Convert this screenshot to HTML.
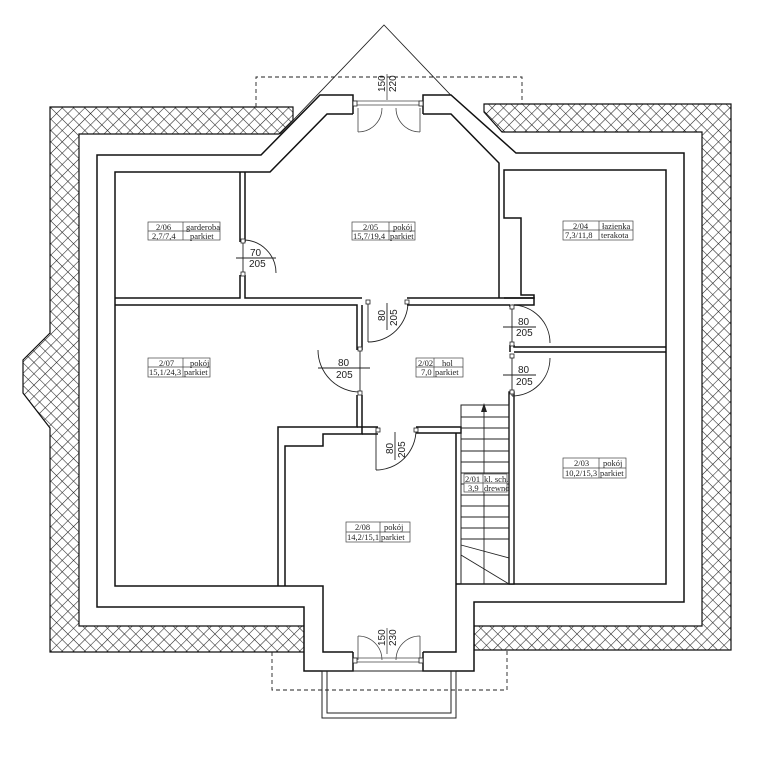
<!DOCTYPE html>
<html><head><meta charset="utf-8"><style>
html,body{margin:0;padding:0;background:#fff}
svg{display:block}
.w{fill:none;stroke:#111;stroke-width:1.5}
.t{fill:none;stroke:#222;stroke-width:0.9}
.lb{font-family:"Liberation Serif",serif;font-size:8.5px;fill:#222}
.dm{font-family:"Liberation Sans",sans-serif;font-size:10px;fill:#222}
</style></head><body>
<svg width="768" height="770" viewBox="0 0 768 770" xmlns="http://www.w3.org/2000/svg">
<defs>
<pattern id="h" width="8" height="8" patternUnits="userSpaceOnUse" patternTransform="rotate(45)">
<rect width="8" height="8" fill="#fff"/>
<line x1="0" y1="0" x2="0" y2="8" stroke="#222" stroke-width="1.1"/>
<line x1="0" y1="0" x2="8" y2="0" stroke="#222" stroke-width="1.1"/>
</pattern>
</defs>
<polygon points="50,107 293,107 293,120 279,134 79,134 79,626 305,626 305,652 50,652 50,428 23,393 23,360 50,333" fill="url(#h)" stroke="#111" stroke-width="1.2"/>
<polygon points="484,104 731,104 731,650 474,650 474,626 702,626 702,132 502,132 484,112" fill="url(#h)" stroke="#111" stroke-width="1.2"/>
<polyline class="t" points="280,134 384,25 484,130"/>
<polyline class="t" stroke-dasharray="4,3" points="256,107 256,77 522,77 522,104"/>
<polyline class="t" stroke-dasharray="4,3" points="272,652 272,690 507,690 507,650"/>
<polygon points="97,155 261,155 320,95 353,95 353,114 327,114 270,172 115,172 115,586 323,586 323,652 353,652 353,671 304,671 304,607 97,607" fill="#fff" stroke="none"/>
<polygon points="423,95 451,95 516,153 684,153 684,602 474,602 474,671 423,671 423,652 456,652 456,584 666,584 666,170 504,170 499,163 451,114 423,114" fill="#fff" stroke="none"/>
<polyline class="w" points="353,114 327,114 270,172 115,172 115,586 323,586 323,652 353,652"/>
<polyline class="w" points="353,114 353,95 320,95 261,155 97,155 97,607 304,607 304,671 353,671 353,652"/>
<polyline class="w" points="423,114 423,95 451,95 516,153 684,153 684,602 474,602 474,671 423,671 423,652"/>
<polyline class="w" points="423,114 451,114 499,163 499,298"/>
<polyline class="w" points="423,652 456,652 456,433"/>
<polyline class="w" points="504,298 534,298 534,295 521,295 521,218 504,218 504,170 666,170 666,584 456,584"/>
<polyline class="w" points="115,298 240,298 240,275"/>
<polyline class="w" points="240,242 240,172"/>
<polyline class="w" points="245,172 245,242"/>
<polyline class="w" points="245,275 245,298 362,298"/>
<polyline class="w" points="115,305 357,305 357,350"/>
<polyline class="w" points="362,305 362,350"/>
<polyline class="w" points="407,298 534,298 534,305 514,305"/>
<polyline class="w" points="407,305 510,305"/>
<polyline class="w" points="357,395 357,427 278,427 278,586"/>
<polyline class="w" points="362,395 362,434 323,434 323,446 285,446 285,586"/>
<line class="w" x1="357" y1="427" x2="378" y2="427"/>
<line class="w" x1="362" y1="434" x2="378" y2="434"/>
<polyline class="w" points="416,427 461,427 461,433 456,433"/>
<line class="w" x1="416" y1="433" x2="456" y2="433"/>
<line class="w" x1="510" y1="305" x2="510" y2="307"/>
<polyline class="w" points="510,345 510,352"/>
<polyline class="w" points="514,345 514,347 666,347"/>
<polyline class="w" points="514,352 666,352"/>
<rect x="509" y="392" width="5" height="192" fill="#fff" stroke="#111" stroke-width="1.4"/>
<rect x="461" y="405" width="48" height="179" fill="none" stroke="#222" stroke-width="1"/>
<g stroke="#222" stroke-width="0.9">
<line x1="461" y1="417" x2="509" y2="417"/><line x1="461" y1="428" x2="509" y2="428"/>
<line x1="461" y1="439" x2="509" y2="439"/><line x1="461" y1="451" x2="509" y2="451"/>
<line x1="461" y1="462" x2="509" y2="462"/><line x1="461" y1="473" x2="509" y2="473"/>
<line x1="461" y1="484" x2="509" y2="484"/><line x1="461" y1="495" x2="509" y2="495"/>
<line x1="461" y1="506" x2="509" y2="506"/><line x1="461" y1="517" x2="509" y2="517"/>
<line x1="461" y1="528" x2="509" y2="528"/><line x1="461" y1="539" x2="509" y2="539"/>
<line x1="461" y1="545" x2="509" y2="558"/><line x1="461" y1="555" x2="509" y2="584"/>
<line x1="484" y1="584" x2="484" y2="405"/>
</g>
<polygon points="484,403 481,412 487,412" fill="#222"/>
<rect x="322" y="671" width="134" height="47" fill="none" stroke="#222" stroke-width="1"/>
<rect x="327" y="671" width="124" height="42" fill="none" stroke="#222" stroke-width="1"/>
<g stroke="#444" stroke-width="0.8" fill="none">
<line x1="353" y1="101" x2="423" y2="101"/><line x1="353" y1="105" x2="423" y2="105"/>
<line x1="353" y1="658" x2="423" y2="658"/><line x1="353" y1="662" x2="423" y2="662"/>
<line x1="358" y1="108" x2="358" y2="132"/><path d="M358,132 A24,24 0 0 0 382,108"/>
<line x1="420" y1="108" x2="420" y2="132"/><path d="M420,132 A24,24 0 0 1 396,108"/>
<line x1="358" y1="660" x2="358" y2="636"/><path d="M358,636 A24,24 0 0 1 382,660"/>
<line x1="420" y1="660" x2="420" y2="636"/><path d="M420,636 A24,24 0 0 0 396,660"/>
<line x1="387" y1="74" x2="387" y2="100"/><line x1="387" y1="628" x2="387" y2="654"/>
</g>
<g stroke="#222" stroke-width="0.9" fill="none">
<path d="M243,240 A33,33 0 0 1 276,273"/><line x1="243" y1="240" x2="243" y2="273"/><line x1="236" y1="258" x2="276" y2="258"/>
<path d="M408,302 A40,40 0 0 1 368,342"/><line x1="368" y1="302" x2="368" y2="342"/><line x1="387" y1="303" x2="387" y2="330"/>
<path d="M318,350 A42,42 0 0 0 360,392"/><line x1="360" y1="350" x2="360" y2="392"/><line x1="318" y1="368" x2="370" y2="368"/>
<path d="M416,430 A40,40 0 0 1 376,470"/><line x1="376" y1="430" x2="376" y2="470"/><line x1="395" y1="432" x2="395" y2="460"/>
<path d="M512,305 A38,38 0 0 1 550,343"/><line x1="512" y1="305" x2="512" y2="343"/><line x1="503" y1="327" x2="536" y2="327"/>
<path d="M550,358 A38,38 0 0 1 512,396"/><line x1="512" y1="358" x2="512" y2="396"/><line x1="503" y1="375" x2="536" y2="375"/>
</g>
<g fill="#fff" stroke="#222" stroke-width="0.8">
<rect x="241" y="239" width="4" height="4"/><rect x="241" y="272" width="4" height="4"/>
<rect x="366" y="300" width="4" height="4"/><rect x="405" y="300" width="4" height="4"/>
<rect x="358" y="347" width="4" height="4"/><rect x="358" y="391" width="4" height="4"/>
<rect x="376" y="428" width="4" height="4"/><rect x="414" y="428" width="4" height="4"/>
<rect x="510" y="305" width="4" height="4"/><rect x="510" y="342" width="4" height="4"/>
<rect x="510" y="354" width="4" height="4"/><rect x="510" y="390" width="4" height="4"/>
<rect x="353" y="101" width="4" height="5"/><rect x="419" y="101" width="4" height="5"/>
<rect x="353" y="658" width="4" height="5"/><rect x="419" y="658" width="4" height="5"/>
</g>
<text class="dm" x="250" y="256">70</text><text class="dm" x="249" y="267">205</text>
<text class="dm" x="338" y="366">80</text><text class="dm" x="336" y="378">205</text>
<text class="dm" x="518" y="325">80</text><text class="dm" x="516" y="336">205</text>
<text class="dm" x="518" y="373">80</text><text class="dm" x="516" y="385">205</text>
<text class="dm" transform="translate(385,321) rotate(-90)">80</text>
<text class="dm" transform="translate(397,326) rotate(-90)">205</text>
<text class="dm" transform="translate(393,454) rotate(-90)">80</text>
<text class="dm" transform="translate(405,458) rotate(-90)">205</text>
<text class="dm" transform="translate(385,92) rotate(-90)">150</text>
<text class="dm" transform="translate(396,92) rotate(-90)">220</text>
<text class="dm" transform="translate(385,646) rotate(-90)">150</text>
<text class="dm" transform="translate(396,646) rotate(-90)">230</text>
<g fill="#fff" stroke="#444" stroke-width="0.7">
<rect x="148" y="222" width="72" height="18"/><line x1="148" y1="231" x2="220" y2="231"/><line x1="183" y1="222" x2="183" y2="240"/>
<rect x="352" y="222" width="63" height="18"/><line x1="352" y1="231" x2="415" y2="231"/><line x1="389" y1="222" x2="389" y2="240"/>
<rect x="563" y="221" width="70" height="19"/><line x1="563" y1="230" x2="633" y2="230"/><line x1="599" y1="221" x2="599" y2="240"/>
<rect x="148" y="358" width="62" height="19"/><line x1="148" y1="367" x2="210" y2="367"/><line x1="183" y1="358" x2="183" y2="377"/>
<rect x="416" y="358" width="47" height="19"/><line x1="416" y1="367" x2="463" y2="367"/><line x1="434" y1="358" x2="434" y2="377"/>
<rect x="563" y="458" width="63" height="20"/><line x1="563" y1="468" x2="626" y2="468"/><line x1="599" y1="458" x2="599" y2="478"/>
<rect x="464" y="474" width="43" height="18"/><line x1="464" y1="483" x2="507" y2="483"/><line x1="483" y1="474" x2="483" y2="492"/>
<rect x="346" y="522" width="64" height="20"/><line x1="346" y1="532" x2="410" y2="532"/><line x1="380" y1="522" x2="380" y2="542"/>
</g>
<g class="lb">
<text x="156" y="230">2/06</text><text x="186" y="230">garderoba</text><text x="152" y="239">2,7/7,4</text><text x="190" y="239">parkiet</text>
<text x="363" y="230">2/05</text><text x="393" y="230">pokój</text><text x="353" y="239">15,7/19,4</text><text x="390" y="239">parkiet</text>
<text x="573" y="229">2/04</text><text x="602" y="229">łazienka</text><text x="565" y="238">7,3/11,8</text><text x="601" y="238">terakota</text>
<text x="159" y="366">2/07</text><text x="190" y="366">pokój</text><text x="149" y="375">15,1/24,3</text><text x="184" y="375">parkiet</text>
<text x="418" y="366">2/02</text><text x="442" y="366">hol</text><text x="421" y="375">7,0</text><text x="435" y="375">parkiet</text>
<text x="574" y="466">2/03</text><text x="603" y="466">pokój</text><text x="565" y="476">10,2/15,3</text><text x="600" y="476">parkiet</text>
<text x="465" y="482">2/01</text><text x="484" y="482">kl. sch.</text><text x="468" y="491">3,9</text><text x="484" y="491">drewno</text>
<text x="355" y="530">2/08</text><text x="384" y="530">pokój</text><text x="347" y="540">14,2/15,1</text><text x="381" y="540">parkiet</text>
</g>
</svg>
</body></html>
